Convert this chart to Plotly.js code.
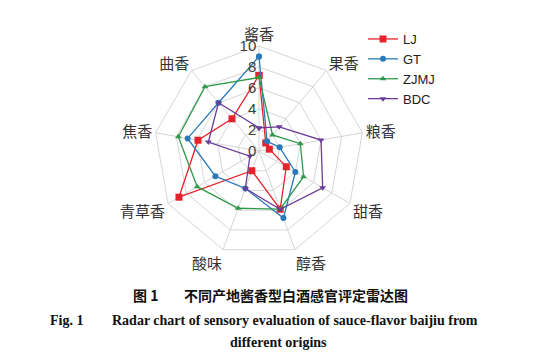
<!DOCTYPE html>
<html>
<head>
<meta charset="utf-8">
<script src="https://cdn.plot.ly/plotly-3.0.1.min.js"></script>
<style>html,body{margin:0;padding:0;background:#fff;}#chart{width:546px;height:364px;}</style>
</head>
<body>
<div id="chart"></div>
<script>
// Categories (clockwise from top)
const categories = ['酱香', '果香', '粮香', '甜香', '醇香', '酸味', '青草香', '焦香', '曲香'];
// Series values
const LJ   = [7.2, 1.0, 1.0, 3.0, 5.9, 2.0, 8.8, 5.9, 4.0];
const GT   = [9.0, 1.2, 2.0, 4.0, 6.8, 3.8, 4.8, 6.9, 6.0];
const ZJMJ = [7.0, 2.0, 4.0, 4.9, 5.9, 5.8, 6.8, 7.8, 8.0];
const BDC  = [2.2, 3.0, 6.0, 7.0, 5.9, 3.8, 1.0, 4.9, 6.0];
const seriesNames = ['LJ', 'GT', 'ZJMJ', 'BDC'];
const radialTicks = [0, 2, 4, 6, 8, 10];

const W = 546, H = 364;
const cx = 259, cy = 151, R = 105;

const styles = [
  {color: '#e5232c', symbol: 'square', size: 7},
  {color: '#2a7ab9', symbol: 'circle', size: 6},
  {color: '#2f9a4c', symbol: 'triangle-up', size: 6},
  {color: '#6b3d98', symbol: 'triangle-down', size: 6}
];

function closeLoop(a) { return a.concat([a[0]]); }

const data = [LJ, GT, ZJMJ, BDC].map((vals, i) => ({
  type: 'scatterpolar',
  mode: 'lines+markers',
  name: seriesNames[i],
  r: closeLoop(vals),
  theta: closeLoop(categories),
  line: {color: styles[i].color, width: 1.3},
  marker: {color: styles[i].color, symbol: styles[i].symbol, size: styles[i].size},
  cliponaxis: false
}));

const fx = px => px / W;
const fy = py => 1 - py / H;

const layout = {
  width: W, height: H,
  margin: {l: 0, r: 0, t: 0, b: 0},
  paper_bgcolor: '#fff',
  plot_bgcolor: '#fff',
  showlegend: true,
  legend: {
    x: fx(363), y: fy(24), xanchor: 'left', yanchor: 'top',
    font: {family: 'Liberation Sans, Arial, sans-serif', size: 13, color: '#222'},
    bgcolor: 'rgba(0,0,0,0)', tracegroupgap: 0
  },
  polar: {
    domain: {x: [fx(cx - R), fx(cx + R)], y: [fy(cy + R), fy(cy - R)]},
    gridshape: 'linear',
    bgcolor: '#fff',
    angularaxis: {
      type: 'category',
      categoryarray: categories,
      rotation: 90,
      direction: 'clockwise',
      showline: true,
      linecolor: '#d6d6d6',
      linewidth: 1,
      gridcolor: '#d6d6d6',
      ticks: '',
      tickfont: {family: 'Noto Sans CJK SC, sans-serif', size: 15, color: '#333'}
    },
    radialaxis: {
      range: [0, 10],
      tickvals: radialTicks,
      ticktext: radialTicks.map(String),
      angle: 90,
      side: 'counterclockwise',
      tickangle: 90,
      showline: false,
      ticks: '',
      gridcolor: '#d6d6d6',
      tickfont: {family: 'Liberation Sans, Arial, sans-serif', size: 15, color: '#404040'}
    }
  },
  annotations: [
    {text: '<b>图 1</b>', x: fx(131), y: fy(295), xref: 'paper', yref: 'paper', xanchor: 'left', yanchor: 'middle', showarrow: false,
     font: {family: 'Noto Sans CJK SC, serif', size: 14, color: '#111'}},
    {text: '<b>不同产地酱香型白酒感官评定雷达图</b>', x: fx(182), y: fy(295), xref: 'paper', yref: 'paper', xanchor: 'left', yanchor: 'middle', showarrow: false,
     font: {family: 'Noto Sans CJK SC, serif', size: 14, color: '#111'}},
    {text: '<b>Fig. 1</b>', x: fx(48), y: fy(320), xref: 'paper', yref: 'paper', xanchor: 'left', yanchor: 'middle', showarrow: false,
     font: {family: 'Liberation Serif, Times New Roman, serif', size: 14, color: '#111'}},
    {text: '<b>Radar chart of sensory evaluation of sauce-flavor baijiu from</b>', x: fx(110), y: fy(320), xref: 'paper', yref: 'paper', xanchor: 'left', yanchor: 'middle', showarrow: false,
     font: {family: 'Liberation Serif, Times New Roman, serif', size: 14, color: '#111'}},
    {text: '<b>different origins</b>', x: fx(278), y: fy(342), xref: 'paper', yref: 'paper', xanchor: 'center', yanchor: 'middle', showarrow: false,
     font: {family: 'Liberation Serif, Times New Roman, serif', size: 14, color: '#111'}}
  ]
};

Plotly.newPlot('chart', data, layout, {displayModeBar: false, staticPlot: true});
</script>
</body>
</html>
